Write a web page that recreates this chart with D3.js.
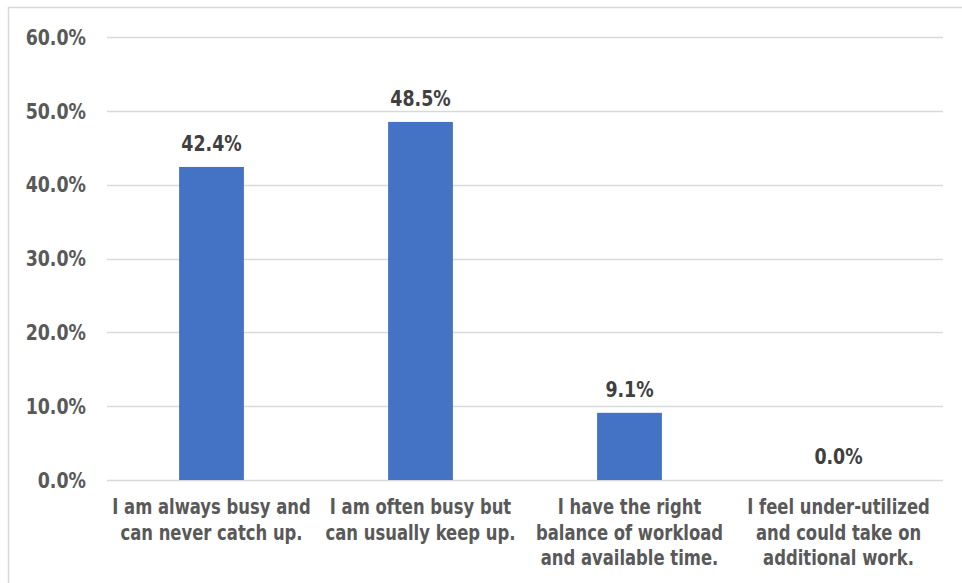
<!DOCTYPE html>
<html>
<head>
<meta charset="utf-8">
<script src="https://cdn.jsdelivr.net/npm/d3@7/dist/d3.min.js"></script>
<style>
  html, body { margin: 0; padding: 0; background: #fff; }
  svg text { font-family: "DejaVu Sans Condensed", "DejaVu Sans", sans-serif; font-weight: bold; }
</style>
</head>
<body>
<svg id="chart" width="962" height="583"></svg>
<script>
// Survey responses on workload balance
const categories = [
  ["I am always busy and", "can never catch up."],
  ["I am often busy but", "can usually keep up."],
  ["I have the right", "balance of workload", "and available time."],
  ["I feel under-utilized", "and could take on", "additional work."]
];
const values = [42.4, 48.5, 9.1, 0.0];
const yTicks = [0, 10, 20, 30, 40, 50, 60];

const svg = d3.select("#chart");
const margin = { left: 107, right: 19, top: 37, bottom: 103 };
const W = 962, H = 583;

// Chart frame
svg.append("rect")
  .attr("x", 8.5).attr("y", 7.5)
  .attr("width", W).attr("height", H)
  .attr("fill", "none").attr("stroke", "#d9d9d9").attr("stroke-width", 1.5);

const x = d3.scaleBand()
  .domain(d3.range(categories.length))
  .range([margin.left, W - margin.right])
  .paddingInner(0.69).paddingOuter(0.345);

const y = d3.scaleLinear().domain([0, 60]).range([H - margin.bottom, margin.top]);

// Horizontal gridlines
svg.append("g").selectAll("line").data(yTicks).join("line")
  .attr("x1", margin.left).attr("x2", W - margin.right)
  .attr("y1", d => Math.round(y(d)) + 0.5).attr("y2", d => Math.round(y(d)) + 0.5)
  .attr("stroke", "#d9d9d9").attr("stroke-width", 1.5);

// Condensed bold text: glyphs squeezed horizontally around their anchor
const SX_NUM = 0.9, SX_CAT = 0.83;

// Y axis labels
svg.append("g").selectAll("text").data(yTicks).join("text")
  .attr("transform", d => `translate(86,${y(d)}) scale(${SX_NUM},1)`)
  .attr("text-anchor", "end").attr("dy", "0.36em")
  .attr("font-size", 21.5).attr("fill", "#595959")
  .text(d => d.toFixed(1) + "%");

// Bars
svg.append("g").selectAll("rect").data(values).join("rect")
  .attr("x", (d, i) => x(i))
  .attr("width", x.bandwidth())
  .attr("y", d => y(d))
  .attr("height", d => y(0) - y(d))
  .attr("fill", "#4472c4");

// Value labels
svg.append("g").selectAll("text").data(values).join("text")
  .attr("transform", (d, i) => `translate(${x(i) + x.bandwidth() / 2},${y(d) - 16}) scale(${SX_NUM},1)`)
  .attr("text-anchor", "middle")
  .attr("font-size", 21.5).attr("fill", "#404040")
  .text(d => d.toFixed(1) + "%");

// Category labels
const cat = svg.append("g").selectAll("text").data(categories).join("text")
  .attr("transform", (d, i) => `translate(${x(i) + x.bandwidth() / 2},${y(0) + 34}) scale(${SX_CAT},1)`)
  .attr("text-anchor", "middle")
  .attr("font-size", 22).attr("fill", "#595959");
cat.selectAll("tspan").data(d => d).join("tspan")
  .attr("x", 0)
  .attr("y", (d, i) => i * 25.7)
  .text(d => d);
</script>
</body>
</html>
